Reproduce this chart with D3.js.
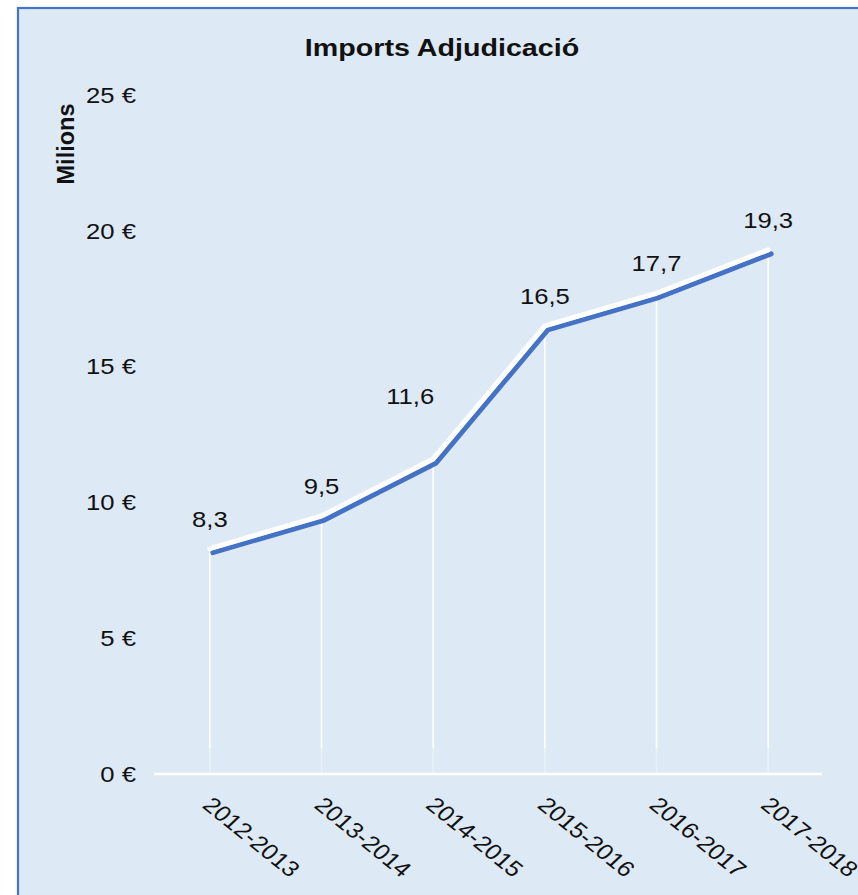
<!DOCTYPE html>
<html>
<head>
<meta charset="utf-8">
<script src="https://cdn.jsdelivr.net/npm/d3@7"></script>
<style>
    body { margin: 0; background: #fff; }
    text { font-family: "Liberation Sans", Arial, sans-serif; }
</style>
</head>
<body>
<div id="chart"></div>
<script>
const periods = ['2012-2013', '2013-2014', '2014-2015', '2015-2016', '2016-2017', '2017-2018']
const imports = [8.3, 9.5, 11.6, 16.5, 17.7, 19.3]
const yTicks = [0, 5, 10, 15, 20, 25]

const w = 858;
const h = 895;
const sx = 1.14; // the picture is a bit wider than tall
const svg = d3.select('#chart').append('svg').attr('width', w).attr('height', h)

// frame
svg.append('rect')
    .attr('x', 18).attr('y', 8)
    .attr('width', w + 20).attr('height', h + 20)
    .attr('fill', '#dde9f5')
    .attr('stroke', '#4472c4')
    .attr('stroke-width', 2.2)

const x = d3.scalePoint().domain(periods).range([154, 824]).padding(0.5)
const y = d3.scaleLinear().domain([0, 25]).range([774, 95])

// title
svg.append('text')
    .attr('transform', `translate(442,56) scale(1.17,1)`)
    .attr('text-anchor', 'middle')
    .attr('font-size', '24.5px')
    .attr('font-weight', 'bold')
    .attr('fill', '#111')
    .text('Imports Adjudicació')

// y axis title
svg.append('text')
    .attr('transform', 'translate(74,144) rotate(-90)')
    .attr('text-anchor', 'middle')
    .attr('font-size', '23.5px')
    .attr('font-weight', 'bold')
    .attr('fill', '#111')
    .text('Milions')

// y axis
const yAxis = svg.append('g')
    .attr('transform', 'translate(136,0)')
    .call(d3.axisLeft(y).tickValues(yTicks).tickSize(0).tickPadding(0).tickFormat(d => d + ' €'))
yAxis.select('.domain').remove()
yAxis.selectAll('text')
    .attr('font-size', '22.5px')
    .attr('font-family', '"Liberation Sans", Arial, sans-serif')
    .attr('fill', '#111')
    .attr('x', 0)
    .attr('transform', `scale(${sx},1)`)

// drop lines
const graphLines = svg.append('g')
graphLines.selectAll('line.drop')
    .data(imports)
    .enter()
    .append('line')
    .attr('class', 'drop')
    .attr('x1', (d, i) => x(periods[i]))
    .attr('x2', (d, i) => x(periods[i]))
    .attr('y1', d => y(d))
    .attr('y2', y(0) - 26)
    .attr('stroke', '#fff')
    .attr('stroke-width', 1.6)
graphLines.selectAll('line.fade')
    .data(imports)
    .enter()
    .append('line')
    .attr('class', 'fade')
    .attr('x1', (d, i) => x(periods[i]))
    .attr('x2', (d, i) => x(periods[i]))
    .attr('y1', y(0) - 26)
    .attr('y2', y(0))
    .attr('stroke', '#fff')
    .attr('stroke-opacity', 0.35)
    .attr('stroke-width', 1.6)

// x axis
const xAxis = svg.append('g')
    .attr('transform', `translate(0,${y(0)})`)
    .call(d3.axisBottom(x).tickSize(0).tickSizeOuter(0).tickPadding(0))
xAxis.select('.domain')
    .attr('stroke', '#fff')
    .attr('stroke-width', 2.5)
    .attr('d', 'M154,0H822')
xAxis.selectAll('text')
    .attr('font-size', '22px')
    .attr('font-family', '"Liberation Sans", Arial, sans-serif')
    .attr('fill', '#111')
    .attr('text-anchor', 'start')
    .attr('y', 0)
    .attr('dy', '0.35em')
    .attr('transform', `translate(-3,27) scale(1.15,1) rotate(43)`)

// line: blue series with the white line over it
const line = d3.line().x((d, i) => x(periods[i])).y(d => y(d))
svg.append('path')
    .datum(imports)
    .attr('d', line)
    .attr('transform', 'translate(3,4)')
    .attr('fill', 'none')
    .attr('stroke', '#4472c4')
    .attr('stroke-width', 5)
    .attr('stroke-linecap', 'round')
    .attr('stroke-linejoin', 'round')
svg.append('path')
    .datum(imports)
    .attr('d', line)
    .attr('fill', 'none')
    .attr('stroke', '#fff')
    .attr('stroke-width', 5)
    .attr('stroke-linecap', 'round')
    .attr('stroke-linejoin', 'round')

// data labels
const nudge = { '2014-2015': [-23, -33] }
svg.selectAll('text.label')
    .data(imports)
    .enter()
    .append('text')
    .attr('class', 'label')
    .attr('transform', (d, i) => {
        const n = nudge[periods[i]] || [0, 0]
        return `translate(${x(periods[i]) + n[0]},${y(d) - 22 + n[1]}) scale(${sx},1)`
    })
    .attr('text-anchor', 'middle')
    .attr('font-size', '22.5px')
    .attr('fill', '#111')
    .text(d => String(d).replace('.', ','))
</script>
</body>
</html>
